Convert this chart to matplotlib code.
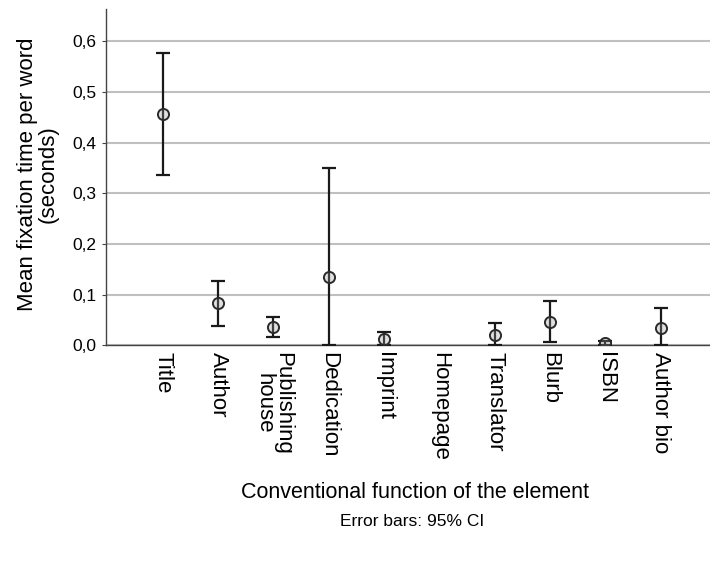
import matplotlib
matplotlib.use("Agg")
import matplotlib.pyplot as plt
import numpy as np
from matplotlib.ticker import FuncFormatter

categories = ["Title", "Author", "Publishing\nhouse", "Dedication", "Imprint",
              "Homepage", "Translator", "Blurb", "ISBN", "Author bio"]
means = [0.457, 0.083, 0.037, 0.134, 0.012, np.nan, 0.021, 0.047, 0.005, 0.035]
ci_low = [0.336, 0.039, 0.016, 0.000, 0.000, np.nan, 0.000, 0.006, 0.000, 0.000]
ci_high = [0.577, 0.127, 0.056, 0.351, 0.026, np.nan, 0.045, 0.088, 0.009, 0.074]

plt.rcParams["font.family"] = ["Liberation Sans", "DejaVu Sans"]

fig = plt.figure(figsize=(7.1, 5.68), dpi=100)
ax = fig.add_axes([0.149, 0.392, 0.851, 0.592])

x = np.arange(len(categories))
means = np.array(means)
yerr = np.vstack([means - np.array(ci_low), np.array(ci_high) - means])

ax.errorbar(x, means, yerr=yerr, fmt="none", ecolor="#1a1a1a",
            elinewidth=1.6, capsize=5, capthick=1.6, zorder=3)
ax.plot(x, means, "o", markersize=8, markerfacecolor=(0.6, 0.6, 0.6, 0.3),
        markeredgecolor="#2a2a2a", markeredgewidth=1.4, zorder=4)

ax.set_xlim(-1.03, 9.89)
ax.set_ylim(0, 0.664)
ax.set_yticks([0.0, 0.1, 0.2, 0.3, 0.4, 0.5, 0.6])
ax.yaxis.set_major_formatter(FuncFormatter(lambda v, p: f"{v:.1f}".replace(".", ",")))
ax.grid(axis="y", color="#c0c0c0", linewidth=1.5, zorder=0)
ax.set_axisbelow(True)

ax.set_xticks(x)
ax.set_xticklabels(categories, rotation=270, ha="center", va="top",
                   fontsize=16, linespacing=0.85)
ax.tick_params(axis="x", length=0, pad=5)
ax.tick_params(axis="y", length=3, width=0.8, color="#444444", labelsize=12.5, pad=4)

for s in ["top", "right"]:
    ax.spines[s].set_visible(False)
ax.spines["left"].set_color("#444444")
ax.spines["bottom"].set_color("#444444")
ax.spines["left"].set_linewidth(1.0)
ax.spines["bottom"].set_linewidth(1.0)

fig.text(38 / 710, 1 - 174 / 568, "Mean fixation time per word\n(seconds)",
         rotation=90, ha="center", va="center", fontsize=16, linespacing=0.95,
         multialignment="center")

fig.text(0.585, 1 - 492 / 568, "Conventional function of the element",
         ha="center", va="center", fontsize=15.5)
fig.text(0.58, 1 - 522 / 568, "Error bars: 95% CI", ha="center", va="center",
         fontsize=12.5)

fig.savefig("out.png", dpi=100)
